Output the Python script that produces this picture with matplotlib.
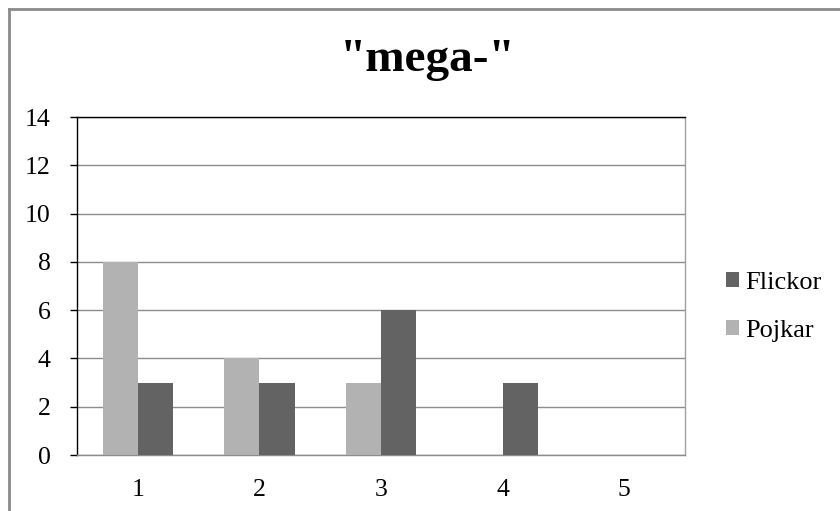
import matplotlib
matplotlib.use("Agg")
import matplotlib.pyplot as plt
from matplotlib.lines import Line2D
import numpy as np

categories = ["1", "2", "3", "4", "5"]
pojkar = [8, 4, 3, 0, 0]
flickor = [3, 3, 6, 3, 0]
title = '"mega-"'
yticks = [0, 2, 4, 6, 8, 10, 12, 14]

plt.rcParams['font.family'] = ['Liberation Serif', 'DejaVu Serif']

fig = plt.figure(figsize=(8.4, 5.11), dpi=100)
ax = fig.add_axes([77/840, 56/511, 608/840, 338/511])

x = np.arange(1, len(categories) + 1)
w = 0.29
ax.bar(x - w/2, pojkar, width=w, color='#B2B2B2', label='Pojkar', zorder=3)
ax.bar(x + w/2, flickor, width=w, color='#636363', label='Flickor', zorder=3)

ax.set_xlim(0.5, 5.5)
ax.set_ylim(0, 14)
ax.set_yticks(yticks)
ax.set_xticks(x)
ax.set_xticklabels(categories)
ax.yaxis.grid(True, color='#8C8C8C', linewidth=1, zorder=0)
ax.set_axisbelow(True)
ax.tick_params(axis='y', length=5, width=1, color='black', pad=14, labelsize=18.5)
ax.tick_params(axis='x', length=0, pad=17, labelsize=18.5)

ax.spines['left'].set_color('black')
ax.spines['top'].set_color('black')
ax.spines['right'].set_color('#A0A0A0')
ax.spines['bottom'].set_color('#8C8C8C')
for s in ax.spines.values():
    s.set_linewidth(1)

fig.text(428/840, 1 - 60/511, title, ha='center', va='center',
         fontsize=34, fontweight='bold')

handles, labels = ax.get_legend_handles_labels()
leg = fig.legend(handles[::-1], labels[::-1], loc='center left',
                 bbox_to_anchor=(715/840, 1 - 307/511), frameon=False,
                 fontsize=19, handlelength=0.5, handleheight=0.5,
                 handletextpad=0.25, labelspacing=1.0, borderaxespad=0)

# outer frame (top and left edges visible)
fig.add_artist(Line2D([9/840, 1.0], [1 - 9/511, 1 - 9/511],
                      transform=fig.transFigure, color='#8A8A8A', linewidth=2))
fig.add_artist(Line2D([9/840, 9/840], [0.0, 1 - 9/511],
                      transform=fig.transFigure, color='#8A8A8A', linewidth=2))

fig.savefig("out.png", dpi=100, facecolor='white')
